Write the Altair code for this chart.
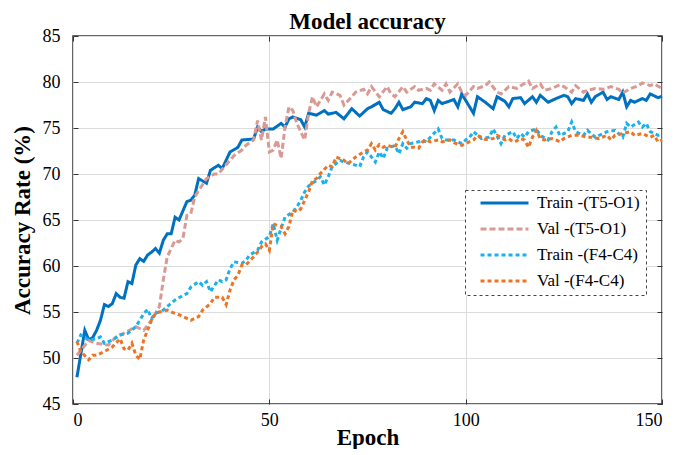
import altair as alt
import pandas as pd

# ---- data (epoch, accuracy %) ----
train_t5_epoch = [1, 3, 4, 5, 6, 7, 8, 9, 10, 11, 12, 13, 14, 15, 16, 17, 18, 19, 20, 21, 22, 23, 24, 25, 26, 27, 29, 30, 31, 32, 34, 35, 37, 38, 40, 42, 43, 46, 47, 48, 49, 51, 53, 54, 55, 56, 58, 59, 60, 62, 64, 65, 67, 69, 71, 73, 75, 76, 78, 79, 81, 82, 83, 84, 86, 87, 89, 90, 91, 92, 93, 94, 95, 97, 98, 99, 100, 102, 103, 105, 107, 108, 110, 111, 112, 114, 115, 117, 118, 119, 121, 123, 125, 126, 127, 128, 130, 131, 132, 133, 135, 136, 137, 139, 140, 141, 142, 143, 145, 146, 147, 149, 150]
train_t5_acc = [47.9, 53.0, 52.0, 52.2, 53.0, 54.1, 55.8, 55.6, 55.9, 57.0, 56.6, 56.5, 58.3, 58.1, 60.1, 60.8, 60.5, 61.2, 61.5, 61.9, 61.4, 62.8, 63.5, 63.5, 65.3, 65.0, 67.0, 67.15, 67.7, 69.5, 69.0, 70.4, 70.95, 70.6, 72.4, 72.9, 73.7, 73.8, 75.1, 74.6, 74.9, 74.9, 75.5, 75.1, 76.0, 76.2, 75.9, 75.1, 76.6, 76.4, 76.9, 76.5, 76.7, 76.0, 77.1, 76.3, 77.1, 77.3, 77.8, 77.0, 76.6, 77.1, 77.8, 77.0, 77.3, 77.8, 77.65, 78.2, 78.0, 76.9, 78.0, 77.65, 77.8, 78.1, 77.3, 78.7, 78.0, 76.6, 78.4, 77.8, 77.1, 78.4, 77.9, 77.3, 78.2, 78.3, 77.65, 78.4, 77.8, 78.55, 77.8, 78.2, 78.55, 78.4, 77.65, 78.2, 78.0, 78.7, 77.8, 78.4, 78.9, 78.1, 78.4, 78.1, 78.9, 77.3, 78.0, 77.8, 78.2, 78.0, 78.7, 78.3, 78.45]

val_t5_epoch = [1, 4, 6, 9, 11, 13, 16, 18, 20, 22, 23, 24, 26, 27, 28, 29, 30, 31, 32, 34, 36, 37, 39, 41, 43, 44, 46, 47, 48, 49, 50, 51, 52, 53, 54, 55, 56, 57, 59, 60, 61, 62, 64, 65, 66, 68, 69, 71, 72, 74, 75, 76, 78, 80, 81, 82, 84, 85, 87, 88, 90, 91, 92, 94, 95, 96, 98, 99, 100, 102, 103, 105, 106, 108, 109, 111, 113, 114, 116, 117, 119, 120, 122, 124, 125, 127, 128, 130, 131, 133, 135, 137, 139, 140, 142, 144, 145, 147, 148, 150]
val_t5_acc = [50.3, 51.9, 51.6, 51.4, 52.3, 52.7, 53.4, 53.0, 54.1, 55.6, 58.5, 61.0, 62.8, 62.6, 63.0, 65.5, 65.7, 67.5, 68.2, 69.5, 70.0, 70.0, 71.0, 72.0, 72.6, 73.1, 73.7, 75.8, 73.7, 76.2, 72.4, 72.6, 73.7, 71.7, 75.1, 77.3, 76.9, 75.5, 73.7, 76.6, 78.4, 77.3, 78.7, 78.0, 78.9, 78.55, 77.5, 78.4, 78.9, 79.2, 78.7, 79.5, 78.4, 79.5, 78.7, 78.4, 79.5, 78.9, 79.5, 79.1, 79.3, 79.1, 79.8, 79.1, 79.8, 78.9, 79.8, 78.9, 78.55, 79.5, 79.3, 79.6, 80.0, 78.9, 78.7, 79.5, 79.3, 79.6, 80.1, 79.3, 79.8, 79.1, 79.3, 79.7, 79.5, 78.9, 79.6, 78.9, 79.1, 79.3, 79.2, 79.5, 79.2, 78.8, 79.3, 79.6, 79.9, 79.6, 79.8, 79.3]

train_f4_epoch = [1, 2, 4, 6, 7, 8, 10, 12, 14, 16, 18, 19, 20, 21, 23, 24, 26, 28, 29, 30, 32, 33, 34, 35, 37, 38, 39, 40, 41, 43, 44, 45, 47, 48, 50, 51, 52, 53, 54, 56, 57, 58, 59, 60, 61, 62, 63, 64, 65, 66, 68, 69, 71, 73, 74, 75, 77, 78, 79, 80, 82, 83, 84, 85, 86, 88, 89, 90, 91, 93, 94, 95, 97, 99, 100, 101, 102, 104, 106, 107, 109, 110, 112, 113, 114, 115, 116, 118, 119, 121, 122, 123, 124, 126, 127, 128, 130, 131, 133, 135, 136, 138, 140, 141, 142, 144, 145, 146, 147, 149, 150]
train_f4_acc = [51.6, 52.5, 51.95, 52.1, 52.3, 51.6, 51.95, 52.5, 52.7, 53.4, 54.8, 55.3, 54.3, 54.85, 55.2, 55.6, 56.3, 56.8, 57.0, 57.7, 58.3, 57.9, 58.3, 57.2, 58.5, 58.3, 58.5, 59.7, 60.45, 60.3, 60.6, 61.2, 61.7, 62.6, 63.2, 64.6, 62.8, 64.1, 65.3, 65.9, 66.4, 67.15, 68.05, 68.7, 69.0, 69.3, 69.7, 68.8, 69.7, 70.8, 71.5, 71.3, 71.1, 70.8, 71.85, 72.4, 71.3, 72.4, 71.7, 72.8, 73.1, 72.2, 73.3, 72.8, 73.3, 73.5, 73.7, 73.5, 74.0, 74.9, 73.85, 73.7, 73.7, 73.3, 73.7, 74.0, 74.6, 73.85, 74.0, 74.9, 73.3, 74.2, 74.6, 73.85, 74.4, 74.0, 74.6, 74.9, 74.2, 73.7, 74.6, 75.1, 74.2, 74.6, 75.65, 74.6, 74.2, 74.75, 74.0, 74.4, 74.6, 74.75, 74.0, 75.5, 75.1, 75.65, 75.1, 75.5, 74.6, 74.2, 74.4]

val_f4_epoch = [1, 2, 4, 5, 6, 8, 10, 12, 13, 14, 15, 16, 17, 18, 20, 21, 22, 24, 25, 27, 29, 30, 32, 33, 35, 36, 37, 38, 39, 40, 41, 42, 43, 44, 46, 47, 48, 49, 50, 51, 52, 53, 54, 55, 56, 57, 58, 59, 60, 61, 62, 63, 65, 66, 67, 69, 70, 72, 74, 75, 76, 77, 78, 79, 80, 82, 83, 84, 85, 86, 87, 88, 89, 90, 91, 93, 94, 96, 97, 99, 100, 102, 103, 104, 105, 107, 108, 110, 111, 112, 113, 114, 115, 116, 117, 118, 119, 120, 122, 123, 124, 125, 127, 129, 131, 132, 134, 136, 137, 138, 140, 142, 143, 145, 147, 148, 149, 150]
val_f4_acc = [51.8, 50.7, 49.8, 50.3, 50.3, 50.7, 51.2, 52.1, 51.0, 50.85, 51.6, 50.3, 49.85, 51.95, 54.1, 54.8, 55.0, 55.2, 55.0, 54.7, 54.3, 54.1, 54.5, 55.2, 55.9, 56.6, 56.6, 56.6, 55.8, 57.4, 58.5, 59.0, 60.1, 60.1, 61.0, 61.5, 62.1, 62.4, 61.7, 64.6, 64.4, 64.3, 63.5, 64.3, 66.1, 65.9, 66.2, 67.15, 68.05, 69.3, 69.5, 70.05, 70.95, 70.8, 71.85, 71.5, 71.1, 71.85, 72.4, 72.6, 73.3, 72.6, 73.2, 72.9, 73.1, 72.9, 73.85, 74.6, 73.7, 72.9, 72.9, 72.8, 73.5, 73.7, 73.5, 73.7, 73.5, 73.7, 73.4, 73.1, 73.3, 73.7, 74.2, 74.0, 73.75, 73.85, 74.2, 73.7, 73.85, 73.5, 73.6, 73.85, 73.7, 72.9, 74.0, 74.75, 73.85, 73.7, 73.85, 73.7, 73.5, 73.85, 74.2, 74.2, 74.0, 74.0, 73.85, 74.2, 73.7, 74.2, 74.4, 74.6, 74.2, 74.4, 74.0, 74.2, 73.5, 73.7]

series_names = ["Train -(T5-O1)", "Val -(T5-O1)", "Train -(F4-C4)", "Val -(F4-C4)"]
series_colors = ["#0070C0", "#DA9A94", "#1AB2EE", "#EE7424"]
series_dashes = [[1, 0], [6, 3], [4, 3], [4, 3]]

frames = []
for i, (name, ep, acc) in enumerate(zip(
        series_names,
        [train_t5_epoch, val_t5_epoch, train_f4_epoch, val_f4_epoch],
        [train_t5_acc, val_t5_acc, train_f4_acc, val_f4_acc])):
    frames.append(pd.DataFrame({"epoch": ep, "acc": acc, "series": name, "order": i}))
df = pd.concat(frames, ignore_index=True)

FONT = "Liberation Serif"
xscale = alt.Scale(domain=[0, 150], nice=False)
yscale = alt.Scale(domain=[45, 85], nice=False)

base = alt.Chart(df)

lines = base.mark_line(strokeWidth=3).encode(
    x=alt.X("epoch:Q", scale=xscale,
            axis=alt.Axis(values=[0, 50, 100, 150], title="Epoch", grid=True,
                          ticks=False, tickSize=0, domain=False, labelPadding=7,
                          titlePadding=-3)),
    y=alt.Y("acc:Q", scale=yscale,
            axis=alt.Axis(values=list(range(45, 86, 5)), title="Accuracy Rate (%)",
                          grid=True, ticks=False, tickSize=0, domain=False,
                          labelPadding=13, titlePadding=8)),
    color=alt.Color("series:N", sort=series_names,
                    scale=alt.Scale(domain=series_names, range=series_colors),
                    legend=alt.Legend(title=None, orient="none", legendX=392, legendY=154,
                                      symbolType="stroke", symbolSize=2300,
                                      symbolStrokeWidth=3, clipHeight=14,
                                      rowPadding=9, padding=6, symbolOffset=8,
                                      labelOffset=7, labelLimit=300)),
    strokeDash=alt.StrokeDash("series:N", sort=series_names,
                              scale=alt.Scale(domain=series_names, range=series_dashes),
                              legend=None),
    order="order:Q",
    detail="series:N",
)

ticks_in1 = base.mark_line(strokeOpacity=0).encode(
    x=alt.X("epoch:Q", scale=xscale,
            axis=alt.Axis(values=[0, 50, 100, 150], orient="bottom", offset=-5, tickSize=5,
                          labels=False, grid=False, domain=False, title=None,
                          tickColor="#333333", tickWidth=1)),
    y=alt.Y("acc:Q", scale=yscale,
            axis=alt.Axis(values=list(range(45, 86, 5)), orient="left", offset=-5, tickSize=5,
                          labels=False, grid=False, domain=False, title=None,
                          tickColor="#333333", tickWidth=1)),
    detail="series:N",
)

ticks_in2 = base.mark_line(strokeOpacity=0).encode(
    x=alt.X("epoch:Q", scale=xscale,
            axis=alt.Axis(values=[0, 50, 100, 150], orient="top", offset=-5, tickSize=5,
                          labels=False, grid=False, domain=False, title=None,
                          tickColor="#333333", tickWidth=1)),
    y=alt.Y("acc:Q", scale=yscale,
            axis=alt.Axis(values=list(range(45, 86, 5)), orient="right", offset=-5, tickSize=5,
                          labels=False, grid=False, domain=False, title=None,
                          tickColor="#333333", tickWidth=1)),
    detail="series:N",
)

chart = alt.layer(lines, ticks_in1, ticks_in2).resolve_axis(
    x="independent", y="independent"
).properties(
    width=589, height=368,
    title=alt.TitleParams("Model accuracy", font=FONT, fontSize=23, fontWeight="bold",
                          color="black", anchor="middle", offset=-7),
    autosize=alt.AutoSizeParams(type="none"),
    padding={"left": 65, "top": 28, "right": 12, "bottom": 45},
).configure_view(
    stroke="#333333", strokeWidth=1.5
).configure_axis(
    labelFont=FONT, labelFontSize=18, labelColor="black",
    titleFont=FONT, titleFontSize=23, titleFontWeight="bold", titleColor="black",
    gridColor="#dcdcdc", gridWidth=1,
).configure_legend(
    labelFont=FONT, labelFontSize=17, labelColor="black",
    strokeColor="#444444", strokeDash=[3, 3], fillColor="white",
)

chart.save("out.html", embed_options={"renderer": "svg", "actions": False})
